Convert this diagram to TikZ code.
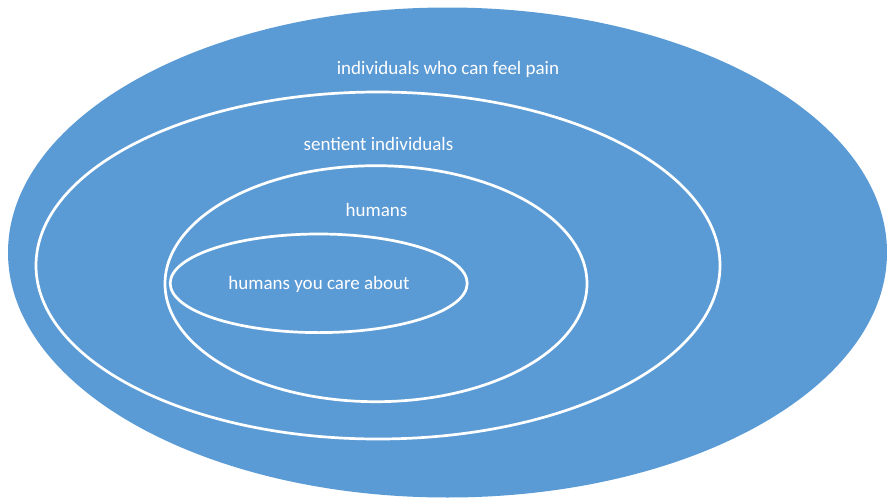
\documentclass[tikz,border=0pt]{standalone}
\usepackage{fontspec}
\setmainfont{Carlito}
\usetikzlibrary{shapes.geometric}
\definecolor{setblue}{HTML}{5B9BD5}
\begin{document}
\begin{tikzpicture}[x=1pt,y=-1pt,
  setring/.style={shape=ellipse, inner sep=0pt, outer sep=0pt, draw=white, line width=2.7pt},
  setlabel/.style={anchor=base, text=white, inner sep=0pt, font=\fontsize{19}{22}\selectfont}]
\useasboundingbox (0,0) rectangle (887,498);
\node[shape=ellipse, inner sep=0pt, fill=setblue, minimum width=879pt, minimum height=490pt] (pain) at (447.5,252.5) {};
\node[setring, minimum width=684pt, minimum height=347pt] (sentient) at (378,265.5) {};
\node[setring, minimum width=422pt, minimum height=236pt] (humans) at (376,283.7) {};
\node[setring, minimum width=297pt, minimum height=98.6pt] (care) at (318.7,283.3) {};
\node[setlabel] (painlabel) at (448,74) {individuals who can feel pain};
\node[setlabel] (sentientlabel) at (378.5,150) {sentient individuals};
\node[setlabel] (humanslabel) at (376.5,216) {humans};
\node[setlabel] (carelabel) at (319,289) {humans you care about};
\end{tikzpicture}
\end{document}
